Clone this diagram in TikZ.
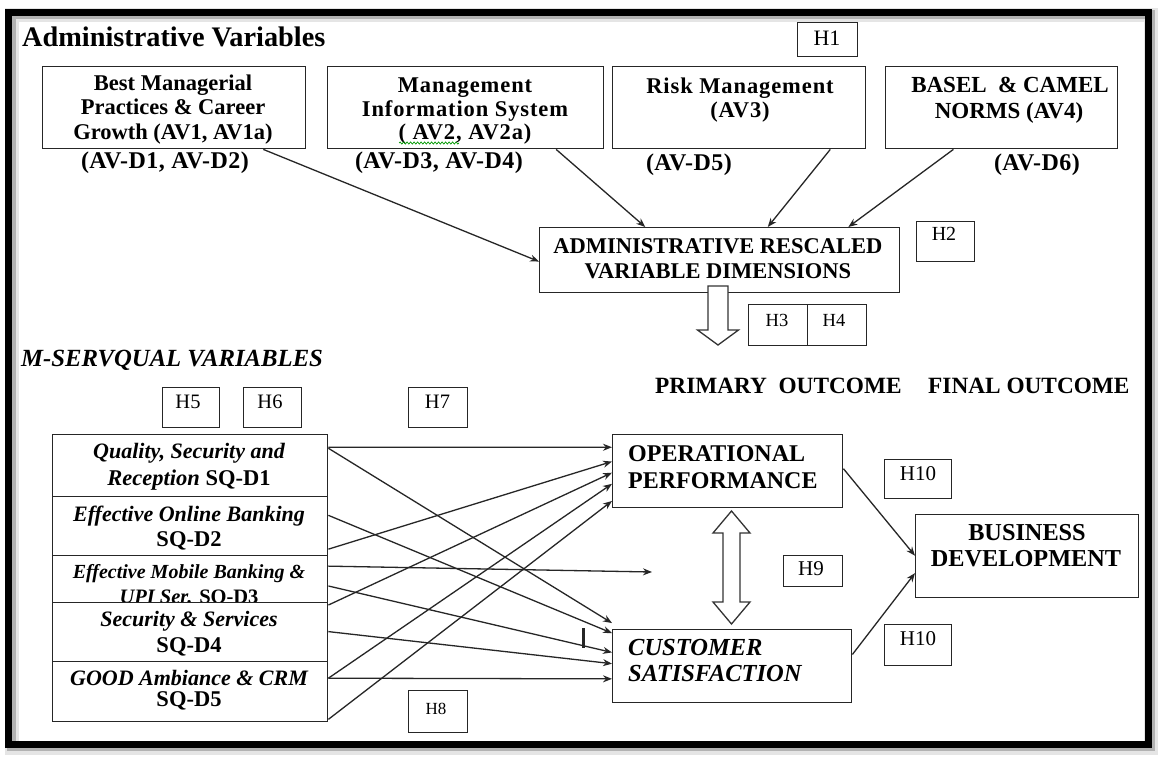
\documentclass[tikz,border=0pt]{standalone}
\usepackage{fontspec}
\setmainfont{Liberation Serif}
\usetikzlibrary{calc,arrows.meta,decorations.pathmorphing}

\tikzset{
  bx/.style={draw=black!85, line width=1.4pt, fill=white, inner sep=0pt, anchor=north west},
  lbl/.style={inner sep=0pt, anchor=base, font=\bfseries\fontsize{22.5}{27}\selectfont},
  wlbl/.style={inner sep=0pt, anchor=base, font=\bfseries\fontsize{22.5}{27}\selectfont\addfontfeature{LetterSpace=4}},
  dlbl/.style={inner sep=0pt, anchor=base, font=\bfseries\fontsize{24}{28}\selectfont\addfontfeature{LetterSpace=2}},
  olbl/.style={inner sep=0pt, anchor=base west, font=\bfseries\fontsize{24}{28}\selectfont},
  ilbl/.style={inner sep=0pt, anchor=base, font=\bfseries\itshape\fontsize{22}{26}\selectfont},
  hyp/.style={inner sep=0pt, anchor=base},
  arr/.style={draw=black!85, line width=1.3pt, -{Stealth[length=9pt,width=7pt]}},
  blockarrow/.style={draw=black!80, line width=1.3pt, fill=white, line join=miter},
}

\begin{document}
\begin{tikzpicture}[x=1pt,y=-1pt]
\useasboundingbox (0,0) rectangle (1164,758);
\fill[white] (0,0) rectangle (1164,758);

% frame with soft shadow
\draw[line width=14pt, black!10] (12,15) rectangle (1151,748);
\draw[line width=9pt, black!30] (11,14) rectangle (1150,746);
\draw[line width=7pt, black] (8.5,12) rectangle (1148,744);

% title
\node[inner sep=0pt, anchor=base west, font=\bfseries\fontsize{28.3}{33}\selectfont] (title) at (22,46.5) {Administrative Variables};

% administrative variable boxes
\node[bx, minimum width=263pt, minimum height=82pt] (av1) at (42,66) {};
\node[bx, minimum width=276pt, minimum height=82pt] (av2) at (327,66) {};
\node[bx, minimum width=253pt, minimum height=82pt] (av3) at (612,66) {};
\node[bx, minimum width=232pt, minimum height=82pt] (av4) at (885,66) {};
\node[bx, minimum width=360pt, minimum height=65pt] (adm) at (539,227) {};

\node[lbl] (av1a) at (173,90) {Best Managerial};
\node[lbl] (av1b) at (173,114.5) {Practices \& Career};
\node[lbl] (av1c) at (173,139) {Growth (AV1, AV1a)};
\node[wlbl] (av2a) at (465,92.5) {Management};
\node[wlbl] (av2b) at (465,116.5) {Information System};
\node[wlbl] (av2c) at (465,139.5) {( AV2, AV2a)};
\draw[green!60!black, line width=0.7pt, decorate, decoration={snake, amplitude=1.1pt, segment length=3.5pt}] (399,143) -- (459,143);
\node[wlbl] (av3a) at (740,93) {Risk Management};
\node[wlbl] (av3b) at (740,117) {(AV3)};
\node[lbl, font=\bfseries\fontsize{23}{27}\selectfont] (av4a) at (1010,92) {BASEL \ \& CAMEL};
\node[lbl, font=\bfseries\fontsize{23}{27}\selectfont] (av4b) at (1009,118) {NORMS (AV4)};

\node[dlbl] (d12) at (165,168) {(AV-D1, AV-D2)};
\node[dlbl] (d34) at (439,168) {(AV-D3, AV-D4)};
\node[dlbl] (d5) at (689,170) {(AV-D5)};
\node[dlbl] (d6) at (1037,170) {(AV-D6)};

\node[lbl] (adma) at (718,253) {ADMINISTRATIVE RESCALED};
\node[lbl] (admb) at (718,278) {VARIABLE DIMENSIONS};

% hypothesis tags
\node[bx, minimum width=60pt, minimum height=34pt] (h1) at (797,22) {};
\node[hyp, font=\fontsize{22}{26}\selectfont] (h1t) at (827,45.5) {H1};
\node[bx, minimum width=58pt, minimum height=40pt] (h2) at (916,221) {};
\node[hyp, font=\fontsize{20}{24}\selectfont] (h2t) at (944,240) {H2};
\node[bx, minimum width=59pt, minimum height=41pt] (h3) at (748,304) {};
\node[bx, minimum width=59pt, minimum height=41pt] (h4) at (807,304) {};
\node[hyp, font=\fontsize{18.5}{22}\selectfont] (h3t) at (777,326) {H3};
\node[hyp, font=\fontsize{18.5}{22}\selectfont] (h4t) at (834,326) {H4};
\node[bx, minimum width=57pt, minimum height=40pt] (h5) at (162,387) {};
\node[bx, minimum width=58pt, minimum height=40pt] (h6) at (243,387) {};
\node[bx, minimum width=59pt, minimum height=40pt] (h7) at (408,387) {};
\node[hyp, font=\fontsize{20.5}{24}\selectfont] (h5t) at (188,408) {H5};
\node[hyp, font=\fontsize{20.5}{24}\selectfont] (h6t) at (270,408) {H6};
\node[hyp, font=\fontsize{20.5}{24}\selectfont] (h7t) at (437.5,408) {H7};
\node[bx, minimum width=59pt, minimum height=42pt] (h8) at (408,690) {};
\node[hyp, font=\fontsize{17}{20}\selectfont] (h8t) at (436,714) {H8};
\node[bx, minimum width=59pt, minimum height=31pt] (h9) at (783,555) {};
\node[hyp, font=\fontsize{21}{24}\selectfont] (h9t) at (811,575.5) {H9};
\node[bx, minimum width=67pt, minimum height=39pt] (h10a) at (884,459) {};
\node[hyp, font=\fontsize{21}{24}\selectfont] (h10at) at (918,480) {H10};
\node[bx, minimum width=67pt, minimum height=41pt] (h10b) at (884,624) {};
\node[hyp, font=\fontsize{21}{24}\selectfont] (h10bt) at (918,645) {H10};

% arrows into the rescaled dimensions box
\draw[arr] ($(av1.south west)!0.837!(av1.south east)$) -- ($(adm.north west)!0.52!(adm.south west)$);
\draw[arr] ($(av2.south west)!0.826!(av2.south east)$) -- ($(adm.north west)!0.294!(adm.north east)$);
\draw[arr] ($(av3.south west)!0.858!(av3.south east)$) -- ($(adm.north west)!0.633!(adm.north east)$);
\draw[arr] ($(av4.south west)!0.293!(av4.south east)$) -- ($(adm.north west)!0.856!(adm.north east)$);

% hollow arrow down from the rescaled dimensions
\draw[blockarrow] (708,286) -- (708,330) -- (697.5,330) -- (718,345) -- (738.5,330) -- (728,330) -- (728,286) -- cycle;

% section headings
\node[inner sep=0pt, anchor=base west, font=\bfseries\itshape\fontsize{24.7}{29}\selectfont] (msq) at (21,366.5) {M-SERVQUAL VARIABLES};
\node[lbl, anchor=base west, font=\bfseries\fontsize{23.3}{27}\selectfont] (prim) at (655,393.5) {PRIMARY\ \ OUTCOME};
\node[lbl, anchor=base west, font=\bfseries\fontsize{23.3}{27}\selectfont] (fin) at (928,393.5) {FINAL OUTCOME};

% service quality dimension boxes
\node[bx, minimum width=275pt, minimum height=62pt] (sq1) at (52,434) {};
\node[bx, minimum width=275pt, minimum height=59pt] (sq2) at (52,496) {};
\node[bx, minimum width=275pt, minimum height=47pt] (sq3) at (52,555) {};
\node[bx, minimum width=275pt, minimum height=59pt] (sq4) at (52,602) {};
\node[bx, minimum width=275pt, minimum height=60pt] (sq5) at (52,661) {};

\node[ilbl] (sq1a) at (189,458) {Quality, Security and};
\node[lbl] (sq1b) at (189,485) {\textit{Reception} SQ-D1};
\node[ilbl] (sq2a) at (189,521.5) {Effective Online Banking};
\node[lbl] (sq2b) at (189,546.5) {SQ-D2};
\begin{scope}
\clip (52,556) rectangle (327,601);
\node[ilbl, font=\bfseries\itshape\fontsize{20}{24}\selectfont] (sq3a) at (189,578) {Effective Mobile Banking \&};
\node[lbl, font=\bfseries\fontsize{20.5}{24}\selectfont] (sq3b) at (189,603) {\textit{UPI Ser.} SQ-D3};
\end{scope}
\node[ilbl] (sq4a) at (189,626) {Security \& Services};
\node[lbl] (sq4b) at (189,652.5) {SQ-D4};
\node[ilbl] (sq5a) at (189,685) {GOOD Ambiance \& CRM};
\node[lbl] (sq5b) at (189,706.5) {SQ-D5};

% outcome boxes
\node[bx, minimum width=230pt, minimum height=73pt] (op) at (612,434) {};
\node[olbl] (opa) at (628,461.5) {OPERATIONAL};
\node[olbl] (opb) at (628,488) {PERFORMANCE};
\node[bx, minimum width=239pt, minimum height=73pt] (cs) at (612,629) {};
\node[olbl, font=\bfseries\itshape\fontsize{24.5}{28}\selectfont] (csa) at (628,655) {CUSTOMER};
\node[olbl, font=\bfseries\itshape\fontsize{24.5}{28}\selectfont] (csb) at (628,681.5) {SATISFACTION};
\node[bx, minimum width=223pt, minimum height=83pt] (bd) at (915,514) {};
\node[lbl, font=\bfseries\fontsize{24.3}{28}\selectfont] (bda) at (1027,540) {BUSINESS};
\node[lbl, font=\bfseries\fontsize{24.3}{28}\selectfont] (bdb) at (1026,566.5) {DEVELOPMENT};

% hollow two-way arrow between the primary outcomes
\draw[blockarrow] (731.5,511) -- (750,533) -- (740,533) -- (740,602) -- (750,602) -- (731.5,624) -- (713,602) -- (723,602) -- (723,533) -- (713,533) -- cycle;

% service quality paths to operational performance
\draw[arr] ($(sq1.north east)!0.21!(sq1.south east)$) -- ($(op.north west)!0.178!(op.south west)$);
\draw[arr] ($(sq2.north east)!0.88!(sq2.south east)$) -- ($(op.north west)!0.37!(op.south west)$);
\draw[arr] ($(sq4.north east)!0.05!(sq4.south east)$) -- ($(op.north west)!0.52!(op.south west)$);
\draw[arr] ($(sq5.north east)!0.28!(sq5.south east)$) -- ($(op.north west)!0.67!(op.south west)$);
\draw[arr] ($(sq5.north east)!0.95!(sq5.south east)$) -- ($(op.north west)!0.90!(op.south west)$);

% service quality paths to customer satisfaction
\draw[arr] ($(sq1.north east)!0.225!(sq1.south east)$) -- ($(cs.north west)!-0.08!(cs.south west)$);
\draw[arr] ($(sq2.north east)!0.32!(sq2.south east)$) -- ($(cs.north west)!0.055!(cs.south west)$);
\draw[arr] ($(sq3.north east)!0.64!(sq3.south east)$) -- ($(cs.north west)!0.315!(cs.south west)$);
\draw[arr] ($(sq4.north east)!0.49!(sq4.south east)$) -- ($(cs.north west)!0.466!(cs.south west)$);
\draw[arr] ($(sq5.north east)!0.28!(sq5.south east)$) -- ($(cs.north west)!0.67!(cs.south west)$);

% mobile banking path ending between the outcomes
\coordinate (sq3end) at (652,572);
\draw[arr] ($(sq3.north east)!0.23!(sq3.south east)$) -- (sq3end);

% short mark left of customer satisfaction
\draw[line width=2.6pt, black!85] (583.5,628) -- (583.5,648);

% paths to business development
\draw[arr] ($(op.north east)!0.466!(op.south east)$) -- ($(bd.north west)!0.494!(bd.south west)$);
\draw[arr] ($(cs.north east)!0.342!(cs.south east)$) -- ($(bd.north west)!0.70!(bd.south west)$);
\end{tikzpicture}
\end{document}
